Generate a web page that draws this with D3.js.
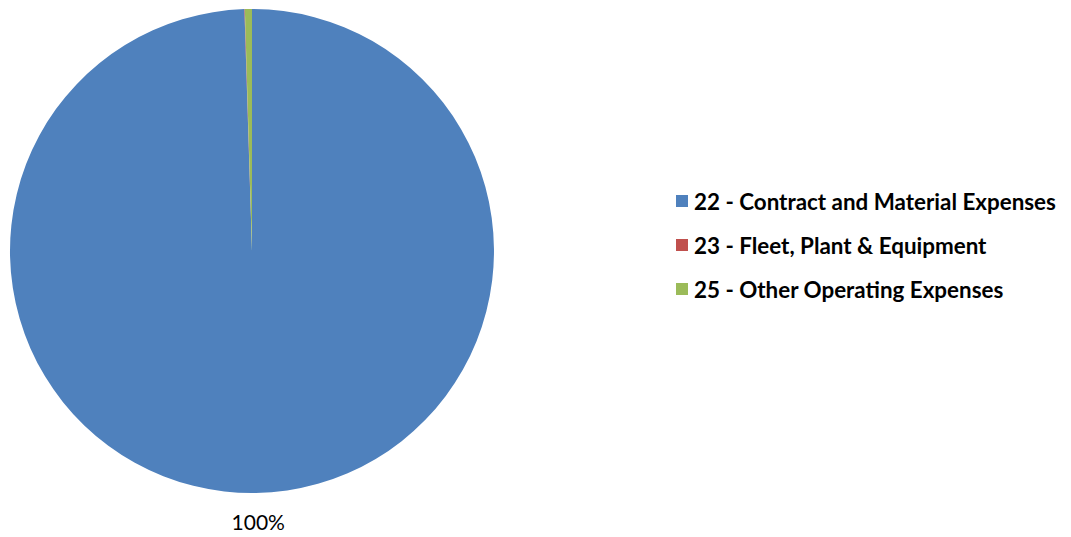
<!DOCTYPE html>
<html>
<head>
<meta charset="utf-8">
<script src="https://cdn.jsdelivr.net/npm/d3@7"></script>
<style>
  html, body { margin: 0; padding: 0; background: #fff; }
  svg { display: block; }
</style>
</head>
<body>
<svg id="chart" width="1071" height="537"></svg>
<script>
// Expense categories and their share of the total (percent)
const categories = [
  "22 - Contract and Material Expenses",
  "23 - Fleet, Plant & Equipment",
  "25 - Other Operating Expenses"
];
const shares = [99.5, 0.03, 0.47];
const colors = ["#4F81BD", "#C0504D", "#9BBB59"];

const svg = d3.select("#chart");
const cx = 252, cy = 251, radius = 242;

const data = categories.map((c, i) => ({ name: c, value: shares[i], color: colors[i] }));
const total = d3.sum(shares);

const pie = d3.pie().sort(null).value(d => d.value);
const arcs = pie(data);
const arc = d3.arc().innerRadius(0).outerRadius(radius);
const labelArc = d3.arc().innerRadius(radius + 29).outerRadius(radius + 29);

const g = svg.append("g").attr("transform", `translate(${cx},${cy})`);

g.selectAll("path.slice")
  .data(arcs)
  .join("path")
  .attr("class", "slice")
  .attr("d", arc)
  .attr("fill", d => d.data.color);

// Percentage labels; slices rounding to 0% are left unlabelled
g.selectAll("text.pct")
  .data(arcs.filter(d => Math.round(d.data.value / total * 100) > 0))
  .join("text")
  .attr("class", "pct")
  .attr("transform", d => `translate(${labelArc.centroid(d)})`)
  .attr("dx", 2)
  .attr("text-anchor", "middle")
  .attr("dominant-baseline", "central")
  .attr("font-family", "Lato, 'Open Sans', sans-serif")
  .attr("font-size", 21)
  .attr("fill", "#000")
  .text(d => Math.round(d.data.value / total * 100) + "%");

// Legend
const legend = svg.append("g").attr("transform", "translate(676,200)");
const rows = legend.selectAll("g.item")
  .data(data)
  .join("g")
  .attr("class", "item")
  .attr("transform", (d, i) => `translate(0,${i * 44})`);

rows.append("rect")
  .attr("x", 0).attr("y", -5)
  .attr("width", 12).attr("height", 12)
  .attr("fill", d => d.color);

rows.append("text")
  .attr("x", 18).attr("y", 1)
  .attr("dominant-baseline", "central")
  .attr("font-family", "Lato, 'Open Sans', sans-serif")
  .attr("font-weight", "bold")
  .attr("font-size", 22.4)
  .attr("fill", "#000")
  .text(d => d.name);
</script>
</body>
</html>
